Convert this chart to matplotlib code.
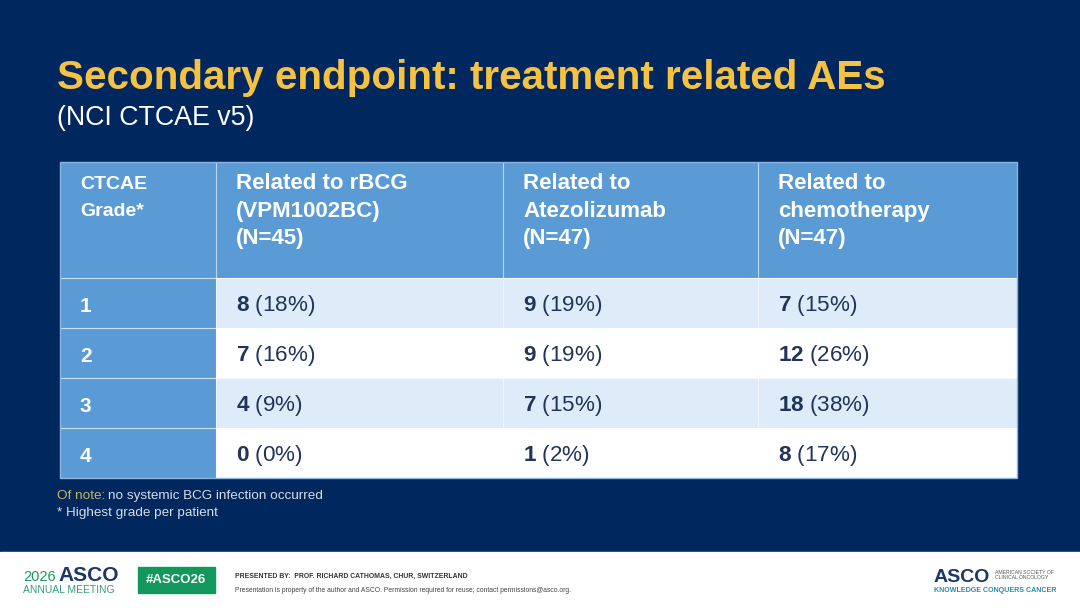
import matplotlib
matplotlib.use("Agg")
import matplotlib.pyplot as plt
from matplotlib.patches import Rectangle

plt.rcParams['font.family'] = ['Liberation Sans', 'DejaVu Sans']
plt.rcParams['mathtext.fontset'] = 'custom'
plt.rcParams['mathtext.rm'] = 'Liberation Sans'
plt.rcParams['mathtext.bf'] = 'Liberation Sans:bold'
plt.rcParams['mathtext.it'] = 'Liberation Sans:italic'

# DATA:

TITLE = "Secondary endpoint: treatment related AEs"
SUBTITLE = "(NCI CTCAE v5)"
first_header = "CTCAE\nGrade*"
group_headers = ["Related to rBCG\n(VPM1002BC)\n(N=45)",
                 "Related to\nAtezolizumab\n(N=47)",
                 "Related to\nchemotherapy\n(N=47)"]
grades = ["1", "2", "3", "4"]
rbcg_n = [8, 7, 4, 0]
rbcg_pct = [18, 16, 9, 0]
atezo_n = [9, 9, 7, 1]
atezo_pct = [19, 19, 15, 2]
chemo_n = [7, 12, 18, 8]
chemo_pct = [15, 26, 38, 17]

# STYLE:

BG = "#00285F"
HEAD_BLUE = "#5B9BD5"
LIGHT_ROW = "#DEEBF8"
YELLOW = "#F5C242"
NAVY_TXT = "#22345A"

col_edges = [60, 216, 503, 758, 1017]
head_top, head_bot = 162, 278
row_h = 50

fig = plt.figure(figsize=(10.8, 6.08), dpi=100)
ax = fig.add_axes([0, 0, 1, 1])
ax.set_xlim(0, 1080)
ax.set_ylim(608, 0)
ax.axis("off")
renderer = fig.canvas.get_renderer()


def px_to_data_x(px):
    return ax.transData.inverted().transform((px, 0))[0]


ax.add_patch(Rectangle((0, 0), 1080, 552, color=BG, zorder=0))
ax.add_patch(Rectangle((0, 552), 1080, 56, color="white", zorder=0))

ax.text(57, 89, TITLE, color=YELLOW, fontsize=29.1, fontweight="bold", va="baseline", ha="left")
ax.text(57, 125, SUBTITLE, color="white", fontsize=19.3, va="baseline", ha="left")

# header row
for i in range(4):
    x0, x1 = col_edges[i], col_edges[i + 1]
    ax.add_patch(Rectangle((x0, head_top), x1 - x0, head_bot - head_top,
                           facecolor=HEAD_BLUE, edgecolor="none", zorder=1))
ax.text(80, 176, first_header, color="white", fontsize=14, fontweight="bold",
        va="top", ha="left", linespacing=1.8)
for i, h in enumerate(group_headers):
    ax.text(col_edges[i + 1] + 20, 173, h, color="white", fontsize=16, fontweight="bold",
            va="top", ha="left", linespacing=1.42)

# body rows
groups = [(rbcg_n, rbcg_pct), (atezo_n, atezo_pct), (chemo_n, chemo_pct)]
for r, g in enumerate(grades):
    y0 = head_bot + r * row_h
    yb = y0 + row_h / 2 + 8.5
    ax.add_patch(Rectangle((col_edges[0], y0), col_edges[1] - col_edges[0], row_h,
                           facecolor=HEAD_BLUE, edgecolor="none", zorder=1))
    fill = LIGHT_ROW if r % 2 == 0 else "white"
    ax.add_patch(Rectangle((col_edges[1], y0), col_edges[4] - col_edges[1], row_h,
                           facecolor=fill, edgecolor="none", zorder=1))
    ax.text(80, yb, g, color="white", fontsize=15, fontweight="bold", va="baseline", ha="left")
    for c, (ns, ps) in enumerate(groups):
        ax.text(col_edges[c + 1] + 20, yb, rf"$\mathbf{{{ns[r]}}}$ ({ps[r]}%)",
                color=NAVY_TXT, fontsize=16.2, va="baseline", ha="left", zorder=3)

# grid lines
table_bot = head_bot + len(grades) * row_h
for x in col_edges[1:-1]:
    ax.plot([x, x], [head_top, table_bot], color="white", lw=0.8, alpha=0.6, zorder=2)
for r in range(len(grades)):
    y = head_bot + r * row_h
    ax.plot([col_edges[0], col_edges[4]], [y, y], color="white", lw=0.8, alpha=0.7, zorder=2)
ax.add_patch(Rectangle((col_edges[0], head_top), col_edges[4] - col_edges[0], table_bot - head_top,
                       facecolor="none", edgecolor="#8DB3E2", lw=1, zorder=4))

# notes
t = ax.text(57, 499, "Of note:", color="#C8B560", fontsize=9.7, va="baseline", ha="left")
ax.text(px_to_data_x(t.get_window_extent(renderer).x1 + 3), 499,
        "no systemic BCG infection occurred", color="#D8DCE6", fontsize=9.7,
        va="baseline", ha="left")
ax.text(57, 516, "* Highest grade per patient", color="#D8DCE6", fontsize=9.7,
        va="baseline", ha="left")

# footer
GREEN = "#1E9660"
t = ax.text(23, 581, "2026", color=GREEN, fontsize=10.5, va="baseline", ha="left")
ax.text(px_to_data_x(t.get_window_extent(renderer).x1 + 3), 581, "ASCO", color="#1B3668",
        fontsize=15, fontweight="bold", va="baseline", ha="left")
ax.text(23, 590, "ANNUAL MEETING", color="#3A9A80", fontsize=7.5, va="center", ha="left")
ax.add_patch(Rectangle((138, 567), 77, 26, color="#12975C", zorder=1))
ax.text(176, 580, "#ASCO26", color="white", fontsize=9.5, fontweight="bold",
        va="center", ha="center", zorder=2)
ax.text(235, 576, "PRESENTED BY:  PROF. RICHARD CATHOMAS, CHUR, SWITZERLAND", color="#333333",
        fontsize=4.95, fontweight="bold", va="center", ha="left")
ax.text(235, 590, "Presentation is property of the author and ASCO. Permission required for reuse; "
        "contact permissions@asco.org.", color="#444444", fontsize=4.85, va="center", ha="left")

ax.text(934, 577, "ASCO", color="#1B3668", fontsize=14, fontweight="bold", va="center", ha="left")
ax.text(995, 575, "AMERICAN SOCIETY OF\nCLINICAL ONCOLOGY", color="#555555", fontsize=3.7,
        va="center", ha="left", linespacing=1.1)
ax.text(934, 590, "KNOWLEDGE CONQUERS CANCER", color="#2A8AA6", fontsize=5.15, fontweight="bold",
        va="center", ha="left")

fig.savefig("out.png", dpi=100)
